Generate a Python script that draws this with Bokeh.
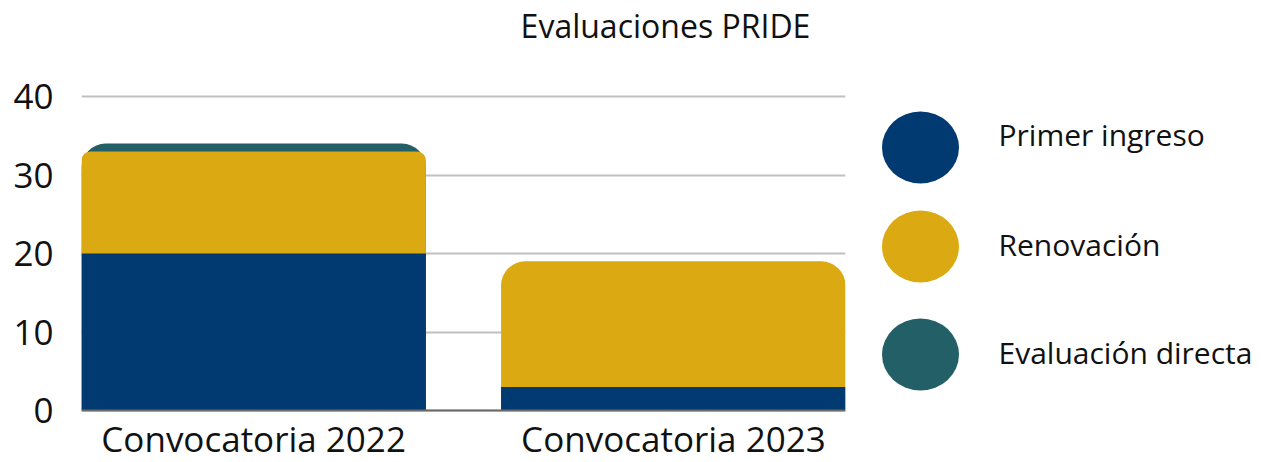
from bokeh.plotting import figure
from bokeh.layouts import row
from bokeh.models import FixedTicker, Range1d, Span
from bokeh.core.properties import value
from bokeh.embed import file_html
from bokeh.resources import INLINE

# ---- data ----
categories = ["Convocatoria 2022", "Convocatoria 2023"]
series = ["Primer ingreso", "Renovación", "Evaluación directa"]
primer_ingreso = [20, 3]
renovacion = [13, 16]
evaluacion_directa = [1, 0]
colors = ["#003A70", "#DBA911", "#235F66"]
y_ticks = [0, 10, 20, 30, 40]
title_text = "Evaluaciones PRIDE"

FONT = "Open Sans"
TEXT_COLOR = "#111111"

values = [primer_ingreso, renovacion, evaluacion_directa]

# ---- layout geometry (page pixels) ----
H = 462
FRAME_L, FRAME_R = 81, 845
Y0_PX, Y40_PX = 410, 96
X_START, X_END = -0.41, 1.41
px_per_unit = (Y0_PX - Y40_PX) / 40.0
y_bottom = -(H - Y0_PX) / px_per_unit
y_top = Y0_PX / px_per_unit
BASE_FIX = 0.43  # compensation (in em) for the renderer's baseline offset


def ydata(py):
    return (Y0_PX - py) / px_per_unit


def xdata(px):
    return X_START + (px - FRAME_L) * (X_END - X_START) / (FRAME_R - FRAME_L)


p = figure(width=850, height=H, output_backend="svg", toolbar_location=None,
           x_range=Range1d(X_START, X_END), y_range=Range1d(y_bottom, y_top),
           min_border_left=FRAME_L, min_border_right=850 - FRAME_R,
           min_border_top=0, min_border_bottom=0, x_axis_location=None)

BAR_W = 0.821
for ci, cat in enumerate(categories):
    cum = []
    acc = 0
    for vals in values:
        acc += vals[ci]
        cum.append(acc)
    total = cum[-1]
    # cumulative bars from the top segment down, lower segments overlay
    for si in reversed(range(len(values))):
        v = values[si][ci]
        if v <= 0:
            continue
        top = cum[si]
        if top == total:
            r = 24
        elif total - top <= 2:
            r = 9
        else:
            r = 0
        p.vbar(x=[ci], bottom=[0], top=[top], width=BAR_W,
               fill_color=colors[si], line_color=None,
               border_radius=(r, r, 0, 0))

# baseline (x axis line)
p.add_layout(Span(location=0, dimension="width", line_color="#6b6b6b",
                  line_width=2))

# category labels
CAT_FS = 35
p.text(x=list(range(len(categories))),
       y=[ydata(453 - BASE_FIX * CAT_FS)] * len(categories),
       text=categories, text_font=value(FONT), text_font_size=f"{CAT_FS}px",
       text_align="center", text_baseline="alphabetic", text_color=TEXT_COLOR)

# title
TITLE_FS = 32
p.text(x=[xdata(665)], y=[ydata(39 - BASE_FIX * TITLE_FS)], text=[title_text],
       text_font=value(FONT), text_font_size=f"{TITLE_FS}px",
       text_align="center", text_baseline="alphabetic", text_color=TEXT_COLOR)

p.yaxis.ticker = FixedTicker(ticks=y_ticks)
p.xgrid.visible = False
p.ygrid.grid_line_color = "#c0c0c0"
p.ygrid.grid_line_width = 2

p.yaxis.axis_line_color = None
p.yaxis.major_tick_line_color = None
p.yaxis.minor_tick_line_color = None
p.yaxis.major_tick_out = 0
p.yaxis.major_tick_in = 0
p.yaxis.major_label_standoff = 28
p.yaxis.major_label_text_font = FONT
p.yaxis.major_label_text_font_size = "35px"
p.yaxis.major_label_text_color = TEXT_COLOR

p.outline_line_color = None
p.background_fill_color = "white"
p.border_fill_color = "white"

# ---- legend panel (data units = page pixels) ----
lg = figure(width=410, height=H, output_backend="svg", toolbar_location=None,
            x_range=Range1d(850, 1260), y_range=Range1d(H, 0), min_border=0,
            x_axis_location=None, y_axis_location=None)
lg.grid.visible = False
lg.outline_line_color = None

LEG_FS = 30
marker_x = 920
marker_y = [147, 246, 354]
label_x = 998
label_baseline = [147, 257, 365]
lg.ellipse(x=[marker_x] * len(series), y=marker_y, width=77, height=72,
           width_units="screen", height_units="screen",
           fill_color=colors, line_color=None)
lg.text(x=[label_x] * len(series),
        y=[b - BASE_FIX * LEG_FS for b in label_baseline], text=series,
        text_font=value(FONT), text_font_size=f"{LEG_FS}px",
        text_baseline="alphabetic", text_align="left", text_color=TEXT_COLOR)

layout = row(p, lg)
open("out.html", "w").write(file_html(layout, INLINE))
